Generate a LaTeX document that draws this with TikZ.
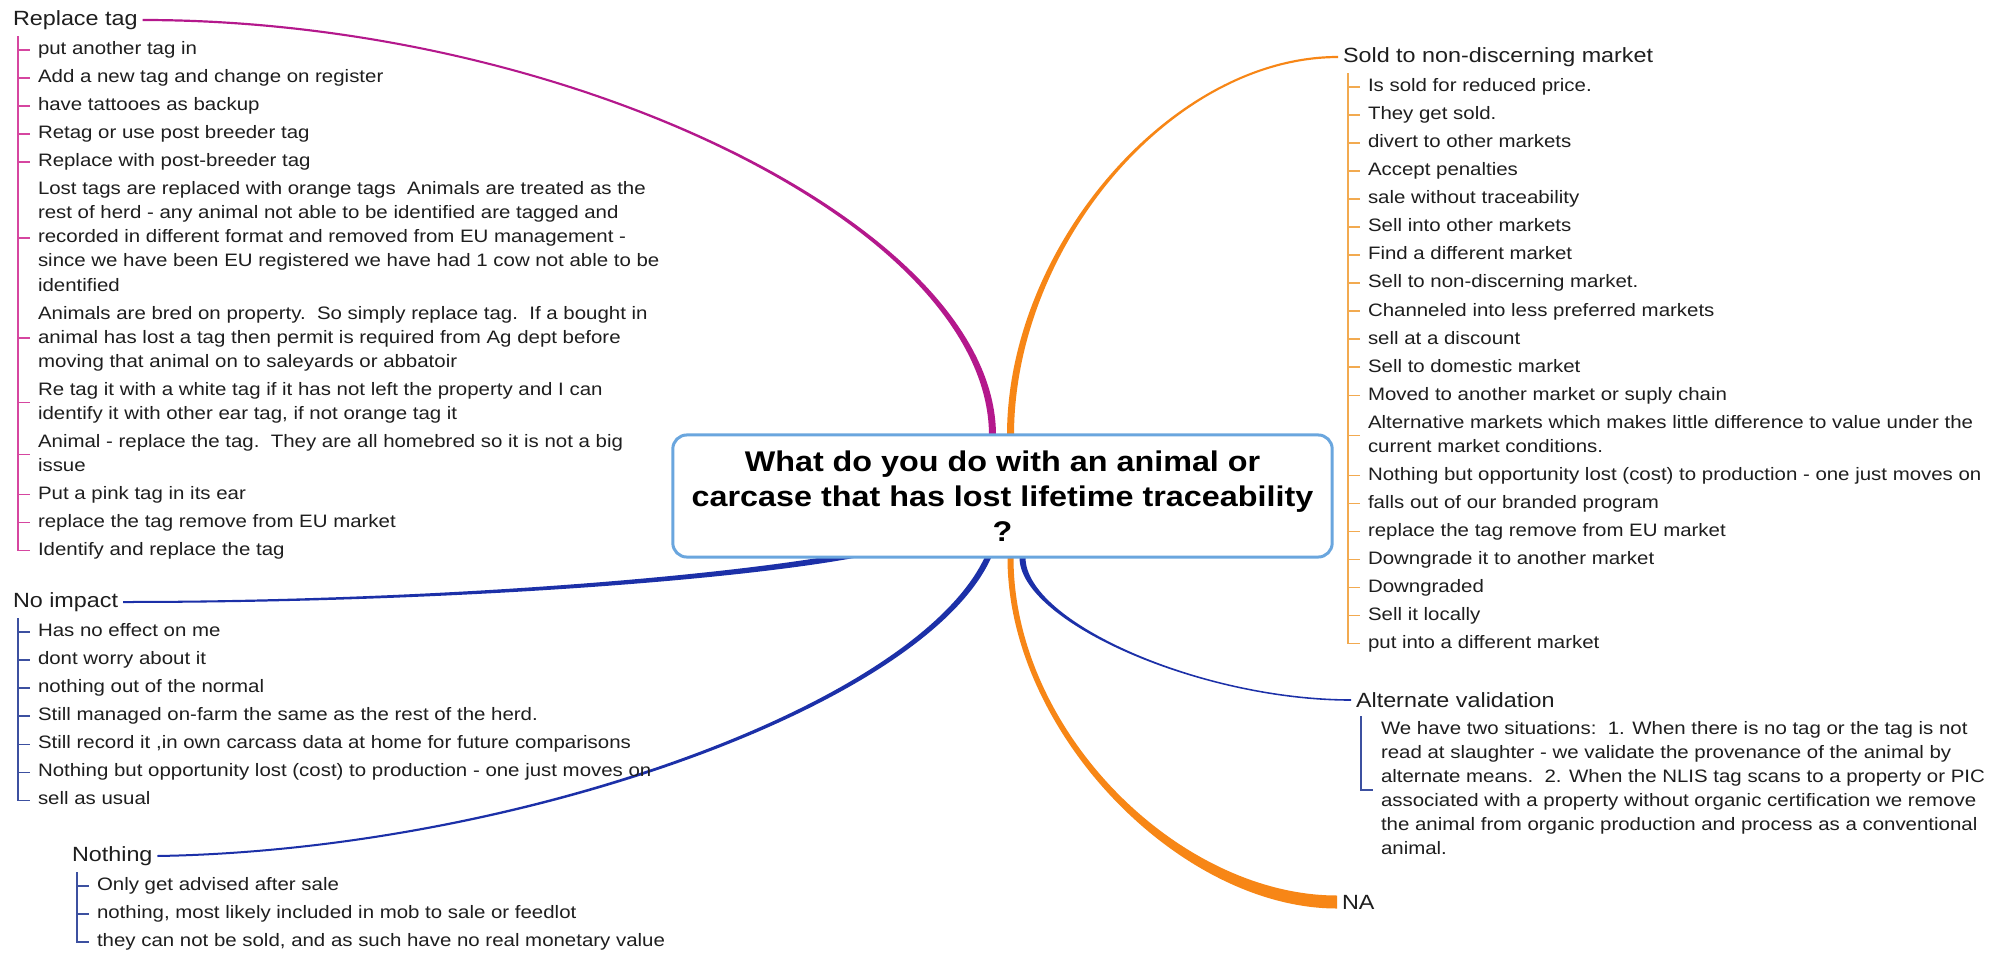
\documentclass[tikz,border=0pt]{standalone}
\usepackage{fontspec}
\setmainfont{Liberation Sans}[FakeStretch=1.135]
\usetikzlibrary{positioning,calc}

\pgfdeclarelayer{background}
\pgfsetlayers{background,main}

\definecolor{ink}{RGB}{30,30,30}
\definecolor{boxblue}{RGB}{106,166,222}
\definecolor{magbr}{RGB}{180,24,140}
\definecolor{orgbr}{RGB}{247,134,22}
\definecolor{blubr}{RGB}{28,48,168}
\definecolor{magtick}{RGB}{214,70,160}
\definecolor{orgtick}{RGB}{242,170,80}
\definecolor{blutick}{RGB}{60,80,160}

% tapered branch: colour, start, start control (relative), end control (relative), end, half widths
\newcommand{\drawbranch}[7]{%
  \coordinate (la) at #2;
  \coordinate (lc) at ($(la)+#3$);
  \coordinate (lb) at #5;
  \coordinate (ld) at ($(lb)+#4$);
  \fill[#1] ($(la)!#6!90:(lc)$)
    .. controls ($(lc)!#6!-90:(la)$) and ($(ld)!#7!90:(lb)$) .. ($(lb)!#7!-90:(ld)$)
    -- ($(lb)!#7!90:(ld)$)
    .. controls ($(ld)!#7!-90:(lb)$) and ($(lc)!#6!90:(la)$) .. ($(la)!#6!-90:(lc)$)
    -- cycle;}

\begin{document}
\begin{tikzpicture}[x=0.01cm,y=-0.01cm,
    question/.style={draw=boxblue,line width=0.03cm,rounded corners=0.14cm,fill=white,
      minimum width=6.59cm,minimum height=1.22cm,align=center,text=black,
      font=\bfseries\fontsize{8.1}{10}\selectfont},
    head/.style={inner xsep=0.05cm,inner ysep=0pt,outer sep=0pt,minimum height=0.32cm,
      text=ink,font=\fontsize{5.85}{7.5}\selectfont},
    item/.style={inner xsep=0.08cm,inner ysep=0.02cm,outer sep=0pt,align=left,text=ink,
      font=\fontsize{5.12}{6.83}\selectfont,
      execute at begin node=\strut,execute at end node=\strut},
    firstitem/.style={item,below=0pt of #1.south west,anchor=north west,xshift=0.22cm},
    nextitem/.style={item,below=0pt of #1.south west,anchor=north west},
    magline/.style={draw=magtick,line width=0.015cm},
    orgline/.style={draw=orgtick,line width=0.015cm},
    bluline/.style={draw=blutick,line width=0.012cm}]

  \useasboundingbox (0,0) rectangle (2002,954);

  \node[question] (q) at (1002.5,496)
    {What do you do with an animal or\\carcase that has lost lifetime traceability\\?};

  % Replace tag
  \node[head,anchor=west] (rt) at (8,20) {Replace tag};
  \node[firstitem=rt] (r1) {put another tag in};
  \node[nextitem=r1] (r2) {Add a new tag and change on register};
  \node[nextitem=r2] (r3) {have tattooes as backup};
  \node[nextitem=r3] (r4) {Retag or use post breeder tag};
  \node[nextitem=r4] (r5) {Replace with post-breeder tag};
  \node[nextitem=r5] (r6) {\strut Lost tags are replaced with orange tags~~Animals are treated as the\\
    rest of herd - any animal not able to be identified are tagged and\\
    recorded in different format and removed from EU management -\\
    since we have been EU registered we have had 1 cow not able to be\\identified\strut};
  \node[nextitem=r6] (r7) {\strut Animals are bred on property.~~So simply replace tag.~~If a bought in\\
    animal has lost a tag then permit is required from Ag dept before\\
    moving that animal on to saleyards or abbatoir\strut};
  \node[nextitem=r7] (r8) {\strut Re tag it with a white tag if it has not left the property and I can\\
    identify it with other ear tag, if not orange tag it\strut};
  \node[nextitem=r8] (r9) {\strut Animal - replace the tag.~~They are all homebred so it is not a big\\issue\strut};
  \node[nextitem=r9] (r10) {Put a pink tag in its ear};
  \node[nextitem=r10] (r11) {replace the tag remove from EU market};
  \node[nextitem=r11] (r12) {Identify and replace the tag};

  \coordinate (rtb) at ([xshift=0.1cm]rt.south west);
  \draw[magline] (rtb) |- (r12.west);
  \path[magline] (rtb |- r1.west) edge (r1.west) (rtb |- r2.west) edge (r2.west)
    (rtb |- r3.west) edge (r3.west) (rtb |- r4.west) edge (r4.west)
    (rtb |- r5.west) edge (r5.west) (rtb |- r6.west) edge (r6.west)
    (rtb |- r7.west) edge (r7.west) (rtb |- r8.west) edge (r8.west)
    (rtb |- r9.west) edge (r9.west) (rtb |- r10.west) edge (r10.west)
    (rtb |- r11.west) edge (r11.west);

  % Sold to non-discerning market
  \node[head,anchor=west] (so) at (1338,57) {Sold to non-discerning market};
  \node[firstitem=so] (s1) {Is sold for reduced price.};
  \node[nextitem=s1] (s2) {They get sold.};
  \node[nextitem=s2] (s3) {divert to other markets};
  \node[nextitem=s3] (s4) {Accept penalties};
  \node[nextitem=s4] (s5) {sale without traceability};
  \node[nextitem=s5] (s6) {Sell into other markets};
  \node[nextitem=s6] (s7) {Find a different market};
  \node[nextitem=s7] (s8) {Sell to non-discerning market.};
  \node[nextitem=s8] (s9) {Channeled into less preferred markets};
  \node[nextitem=s9] (s10) {sell at a discount};
  \node[nextitem=s10] (s11) {Sell to domestic market};
  \node[nextitem=s11] (s12) {Moved to another market or suply chain};
  \node[nextitem=s12] (s13) {\strut Alternative markets which makes little difference to value under the\\
    current market conditions.\strut};
  \node[nextitem=s13] (s14) {Nothing but opportunity lost (cost) to production - one just moves on};
  \node[nextitem=s14] (s15) {falls out of our branded program};
  \node[nextitem=s15] (s16) {replace the tag remove from EU market};
  \node[nextitem=s16] (s17) {Downgrade it to another market};
  \node[nextitem=s17] (s18) {Downgraded};
  \node[nextitem=s18] (s19) {Sell it locally};
  \node[nextitem=s19] (s20) {put into a different market};

  \coordinate (sob) at ([xshift=0.1cm]so.south west);
  \draw[orgline] (sob) |- (s20.west);
  \path[orgline] (sob |- s1.west) edge (s1.west) (sob |- s2.west) edge (s2.west)
    (sob |- s3.west) edge (s3.west) (sob |- s4.west) edge (s4.west)
    (sob |- s5.west) edge (s5.west) (sob |- s6.west) edge (s6.west)
    (sob |- s7.west) edge (s7.west) (sob |- s8.west) edge (s8.west)
    (sob |- s9.west) edge (s9.west) (sob |- s10.west) edge (s10.west)
    (sob |- s11.west) edge (s11.west) (sob |- s12.west) edge (s12.west)
    (sob |- s13.west) edge (s13.west) (sob |- s14.west) edge (s14.west)
    (sob |- s15.west) edge (s15.west) (sob |- s16.west) edge (s16.west)
    (sob |- s17.west) edge (s17.west) (sob |- s18.west) edge (s18.west)
    (sob |- s19.west) edge (s19.west);

  % No impact
  \node[head,anchor=west] (ni) at (8,602) {No impact};
  \node[firstitem=ni] (i1) {Has no effect on me};
  \node[nextitem=i1] (i2) {dont worry about it};
  \node[nextitem=i2] (i3) {nothing out of the normal};
  \node[nextitem=i3] (i4) {Still managed on-farm the same as the rest of the herd.};
  \node[nextitem=i4] (i5) {Still record it ,in own carcass data at home for future comparisons};
  \node[nextitem=i5] (i6) {Nothing but opportunity lost (cost) to production - one just moves on};
  \node[nextitem=i6] (i7) {sell as usual};

  \coordinate (nib) at ([xshift=0.1cm]ni.south west);
  \draw[bluline] (nib) |- (i7.west);
  \path[bluline] (nib |- i1.west) edge (i1.west) (nib |- i2.west) edge (i2.west)
    (nib |- i3.west) edge (i3.west) (nib |- i4.west) edge (i4.west)
    (nib |- i5.west) edge (i5.west) (nib |- i6.west) edge (i6.west);

  % Nothing
  \node[head,anchor=west] (no) at (67,856) {Nothing};
  \node[firstitem=no] (n1) {Only get advised after sale};
  \node[nextitem=n1] (n2) {nothing, most likely included in mob to sale or feedlot};
  \node[nextitem=n2] (n3) {they can not be sold, and as such have no real monetary value};

  \coordinate (nob) at ([xshift=0.1cm]no.south west);
  \draw[bluline] (nob) |- (n3.west);
  \path[bluline] (nob |- n1.west) edge (n1.west) (nob |- n2.west) edge (n2.west);

  % Alternate validation
  \node[head,anchor=west] (av) at (1351,700) {Alternate validation};
  \node[firstitem=av] (v1) {\strut We have two situations:~~1. When there is no tag or the tag is not\\
    read at slaughter - we validate the provenance of the animal by\\
    alternate means.~~2. When the NLIS tag scans to a property or PIC\\
    associated with a property without organic certification we remove\\
    the animal from organic production and process as a conventional\\animal.\strut};
  \draw[bluline] ([xshift=0.1cm]av.south west) |- (v1.west);

  % NA
  \node[head,anchor=west] (na) at (1337,902) {NA};

  % branches under the central question
  \begin{pgfonlayer}{background}
    \fill[white] (0,0) rectangle (2002,954);
    \drawbranch{magbr}{($(q.north)+(-10,2)$)}{(0,-208)}{(426,0)}{(rt.east)}{0.035cm}{0.011cm}
    \drawbranch{orgbr}{($(q.north)+(8,2)$)}{(0,-189)}{(-166,0)}{(so.west)}{0.035cm}{0.011cm}
    \drawbranch{blubr}{($(q.south)+(-122,-9)$)}{(-120,27)}{(325,0)}{(ni.east)}{0.03cm}{0.01cm}
    \drawbranch{blubr}{($(q.south)+(-12,-7)$)}{(-60,150)}{(364,-6)}{(no.east)}{0.03cm}{0.01cm}
    \drawbranch{blubr}{($(q.south)+(20,-1)$)}{(0,64)}{(-151,0)}{(av.west)}{0.03cm}{0.008cm}
    \drawbranch{orgbr}{($(q.south)+(8,-1)$)}{(0,175)}{(-157,0)}{(na.west)}{0.03cm}{0.065cm}
  \end{pgfonlayer}
\end{tikzpicture}
\end{document}
